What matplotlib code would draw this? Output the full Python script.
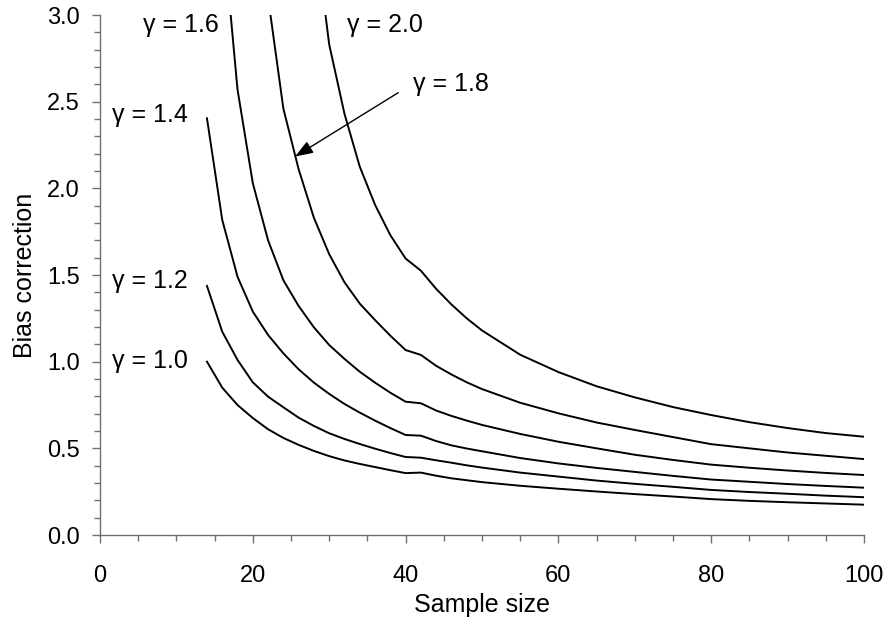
import numpy as np
import matplotlib
matplotlib.use("Agg")
import matplotlib.pyplot as plt
from matplotlib.ticker import MultipleLocator, FormatStrFormatter

nan = float("nan")

sample_size = [14, 16, 18, 20, 22, 24, 26, 28, 30, 32, 34, 36, 38, 40, 42,
               44, 46, 48, 50, 55, 60, 65, 70, 75, 80, 85, 90, 95, 100]

g10 = [1.00, 0.85, 0.75, 0.675, 0.61, 0.56, 0.52, 0.485, 0.455, 0.43, 0.41, 0.392, 0.374, 0.357, 0.36,
       0.342, 0.327, 0.316, 0.305, 0.284, 0.267, 0.251, 0.236, 0.222, 0.207, 0.197, 0.189, 0.182, 0.175]
g12 = [1.437, 1.173, 1.01, 0.881, 0.798, 0.737, 0.677, 0.629, 0.587, 0.554, 0.525, 0.498, 0.473, 0.45, 0.446,
       0.431, 0.417, 0.402, 0.389, 0.36, 0.337, 0.314, 0.295, 0.278, 0.26, 0.248, 0.238, 0.227, 0.218]
g14 = [2.404, 1.818, 1.49, 1.289, 1.154, 1.048, 0.956, 0.879, 0.814, 0.756, 0.706, 0.66, 0.617, 0.577, 0.573,
       0.542, 0.517, 0.499, 0.483, 0.444, 0.413, 0.387, 0.364, 0.341, 0.32, 0.307, 0.294, 0.283, 0.273]
g16 = [nan, 3.53, 2.57, 2.03, 1.70, 1.47, 1.321, 1.198, 1.096, 1.016, 0.942, 0.879, 0.821, 0.769, 0.76,
       0.718, 0.687, 0.66, 0.635, 0.583, 0.538, 0.50, 0.463, 0.433, 0.406, 0.388, 0.372, 0.358, 0.346]
g18 = [nan, nan, nan, nan, 3.10, 2.46, 2.11, 1.83, 1.62, 1.458, 1.335, 1.24, 1.15, 1.067, 1.039,
       0.976, 0.926, 0.881, 0.842, 0.763, 0.702, 0.649, 0.606, 0.565, 0.524, 0.50, 0.476, 0.457, 0.438]
g20 = [nan, nan, nan, nan, nan, nan, nan, 3.53, 2.83, 2.43, 2.125, 1.905, 1.73, 1.595, 1.525,
       1.42, 1.33, 1.25, 1.18, 1.04, 0.94, 0.858, 0.794, 0.738, 0.692, 0.651, 0.617, 0.588, 0.567]

series = [g10, g12, g14, g16, g18, g20]

labels = ["\u03b3 = 1.0", "\u03b3 = 1.2", "\u03b3 = 1.4", "\u03b3 = 1.6", "\u03b3 = 1.8", "\u03b3 = 2.0"]

plt.rcParams["font.family"] = ["Liberation Sans", "DejaVu Sans"]

fig = plt.figure(figsize=(8.95, 6.18), dpi=100)
ax = fig.add_axes([100 / 895, 1 - 535 / 618, 764 / 895, 520 / 618])

for vals in series:
    ax.plot(sample_size, vals, color="black", lw=1.4)

ax.set_xlim(0, 100)
ax.set_ylim(0, 3.0)
ax.xaxis.set_major_locator(MultipleLocator(20))
ax.xaxis.set_minor_locator(MultipleLocator(5))
ax.yaxis.set_major_locator(MultipleLocator(0.5))
ax.yaxis.set_minor_locator(MultipleLocator(0.1))
ax.yaxis.set_major_formatter(FormatStrFormatter("%.1f"))

for s in ["top", "right"]:
    ax.spines[s].set_visible(False)
for s in ["left", "bottom"]:
    ax.spines[s].set_color("#707070")
    ax.spines[s].set_linewidth(1.0)

ax.tick_params(which="major", direction="out", length=5.5, width=1.0, color="#707070",
               labelsize=17, labelcolor="black")
ax.tick_params(which="minor", direction="out", length=4, width=1.0, color="#707070")
ax.tick_params(axis="y", which="major", pad=9)
ax.tick_params(axis="x", which="major", pad=16)

ax.set_xlabel("Sample size", fontsize=18)
ax.set_ylabel("Bias correction", fontsize=18)
ax.xaxis.set_label_coords(0.5, -0.111)
ax.yaxis.set_label_coords(-0.082, 0.5)

fs = 18
ax.text(11.48, 0.962, labels[0], ha="right", va="baseline", fontsize=fs)
ax.text(11.48, 1.423, labels[1], ha="right", va="baseline", fontsize=fs)
ax.text(11.48, 2.385, labels[2], ha="right", va="baseline", fontsize=fs)
ax.text(15.49, 2.90, labels[3], ha="right", va="baseline", fontsize=fs)
ax.text(41.0, 2.564, labels[4], ha="left", va="baseline", fontsize=fs)
ax.text(32.29, 2.90, labels[5], ha="left", va="baseline", fontsize=fs)

ax.annotate("", xy=(25.52, 2.183), xytext=(39.04, 2.552),
            arrowprops=dict(arrowstyle="-|>,head_length=0.55,head_width=0.2",
                            color="black", lw=1.0, mutation_scale=20,
                            shrinkA=0, shrinkB=0))

fig.savefig("out.png", dpi=100, facecolor="white")
